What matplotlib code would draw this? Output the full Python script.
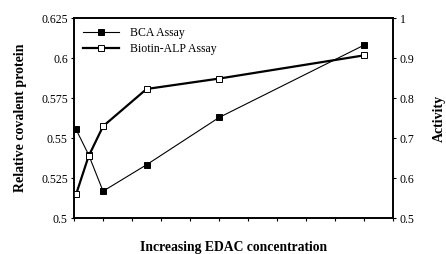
import matplotlib
matplotlib.use("Agg")
import matplotlib.pyplot as plt

plt.rcParams['font.family'] = ['Liberation Serif', 'DejaVu Serif']

# x positions (increasing EDAC concentration, arbitrary units)
conc = [0.07, 0.5, 1.0, 2.5, 5.0, 10.0]
bca = [0.5555, 0.5398, 0.517, 0.5335, 0.563, 0.6082]
alp = [0.56, 0.655, 0.730, 0.823, 0.849, 0.907]

fig, ax = plt.subplots(figsize=(4.46, 2.54), dpi=100)
fig.subplots_adjust(left=0.166, right=0.882, top=0.929, bottom=0.14)

l1, = ax.plot(conc, bca, color='black', lw=0.8, marker='s', ms=4.2,
              mfc='black', mec='black', mew=0.7, label='BCA Assay')
ax.set_ylim(0.5, 0.625)
ax.set_yticks([0.5, 0.525, 0.55, 0.575, 0.6, 0.625])
ax.set_yticklabels(['0.5', '0.525', '0.55', '0.575', '0.6', '0.625'])
ax.set_xlim(0, 11)
ax.set_xticks(range(12))
ax.set_xticklabels([])
ax.set_ylabel('Relative covalent protein', fontweight='bold', fontsize=10, labelpad=10)
ax.set_xlabel('Increasing EDAC concentration', fontweight='bold', fontsize=9.8, labelpad=12)

ax2 = ax.twinx()
l2, = ax2.plot(conc, alp, color='black', lw=1.6, marker='s', ms=4.2,
               mfc='white', mec='black', mew=0.7, label='Biotin-ALP Assay')
ax2.set_ylim(0.5, 1.0)
ax2.set_yticks([0.5, 0.6, 0.7, 0.8, 0.9, 1.0])
ax2.set_yticklabels(['0.5', '0.6', '0.7', '0.8', '0.9', '1'])
ax2.set_ylabel('Activity', fontweight='bold', fontsize=10, labelpad=13)

for a in (ax, ax2):
    a.tick_params(labelsize=8.5, length=2.5, width=0.8, direction='out', pad=2)
    for s in a.spines.values():
        s.set_linewidth(1.2)
    for c in (l1, l2):
        c.set_clip_on(False)

ax.legend(handles=[l1, l2], loc='upper left', frameon=False, fontsize=8.5,
          handlelength=3.0, bbox_to_anchor=(0.0, 1.0), borderaxespad=0.4,
          labelspacing=0.3, handletextpad=0.9)

fig.savefig('out.png')
